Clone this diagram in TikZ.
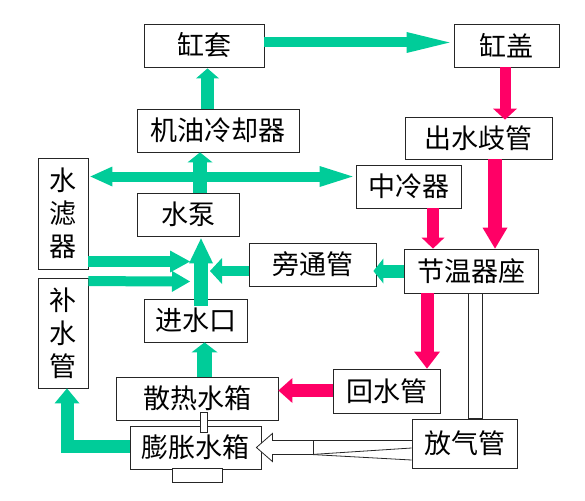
\documentclass[tikz,border=0pt]{standalone}
\usepackage{fontspec}
\newfontfamily\cjk{Noto Sans CJK SC}
\usetikzlibrary{arrows.meta,calc}
\definecolor{cgreen}{RGB}{0,204,153}
\definecolor{cpink}{RGB}{255,0,102}
\begin{document}
\begin{tikzpicture}[x=1pt,y=-1pt,
  box/.style={draw=black!85, line width=0.8pt, fill=white, minimum height=43pt, inner sep=0pt,
    align=center, font=\cjk\fontsize{27}{33}\selectfont},
  ar/.style n args={4}{draw=#1, line width=#2, -{Triangle[width=#3,length=#4,line width=0pt]}},
  thin/.style={draw=black!85, line width=0.8pt, fill=white}]
\useasboundingbox (0,0) rectangle (585,500);
% boxes
\node[box, minimum width=120pt] (A) at (204,45.5) {缸套};
\node[box, minimum width=105pt] (B) at (506.5,45.5) {缸盖};
\node[box, minimum width=162pt] (C) at (218,130.5) {机油冷却器};
\node[box, minimum width=147pt, minimum height=42pt] (D) at (478.5,138) {出水歧管};
\node[box, minimum width=105pt] (E) at (408.5,186.5) {中冷器};
\node[box, minimum width=50pt, minimum height=111pt] (F) at (63,213.5) {水\\滤\\器};
\node[box, minimum width=102pt] (G) at (188,214.5) {水泵};
\node[box, minimum width=127pt] (H) at (312.5,264.5) {旁通管};
\node[box, minimum width=134pt, minimum height=44pt] (I) at (471,271) {节温器座};
\node[box, minimum width=50pt, minimum height=110pt] (J) at (63,333) {补\\水\\管};
\node[box, minimum width=103pt] (K) at (195.5,320.5) {进水口};
\node[box, minimum width=107pt, minimum height=44pt] (L) at (386.5,391) {回水管};
\node[box, minimum width=162pt] (M) at (197,398.5) {散热水箱};
\node[box, minimum width=105pt, minimum height=49pt] (N) at (464.5,443.5) {放气管};
\node[box, minimum width=131pt] (O) at (195.5,447.5) {膨胀水箱};
% free ends
\coordinate (j1) at (190,261.5);
\coordinate (j2) at (190,281.5);
\coordinate (j3) at (210,271);
% green arrows
\draw[ar={cgreen}{10pt}{21pt}{43pt}] ([yshift=3pt]A.east) -- ([xshift=-4pt,yshift=3pt]B.west);
\draw[ar={cgreen}{13pt}{23pt}{10pt}] ([xshift=-10.5pt]C.north) -- ([xshift=3.5pt,yshift=-1pt]A.south);
\draw[ar={cgreen}{14pt}{25pt}{10pt}] ([xshift=12pt]G.north) -- ([xshift=-18pt]C.south);
\draw[draw=cgreen, line width=10pt,
  {Triangle[width=20pt,length=22pt,line width=0pt]}-{Triangle[width=21pt,length=33pt,line width=0pt]}]
  ([xshift=2pt,yshift=37pt]F.east) -- ([xshift=-3pt,yshift=10pt]E.west);
\draw[ar={cgreen}{14pt}{24pt}{25pt}] ([xshift=5.5pt,yshift=-7pt]K.north) -- ([xshift=13pt,yshift=-2pt]G.south);
\draw[ar={cgreen}{11pt}{22pt}{20pt}] ([yshift=-48pt]F.east) -- (j1);
\draw[ar={cgreen}{10pt}{21pt}{18pt}] ([yshift=-3.5pt]J.north east) -- (j2);
\draw[ar={cgreen}{10pt}{26pt}{12pt}] ([yshift=-6.5pt]H.west) -- (j3);
\draw[ar={cgreen}{13pt}{25pt}{10pt}] (I.west) -- ([xshift=-3pt,yshift=-6.5pt]H.east);
\draw[ar={cgreen}{15pt}{26pt}{10pt}] ([xshift=7.5pt]M.north) -- ([xshift=9pt]K.south);
\draw[ar={cgreen}{13pt}{25pt}{15pt}] ([yshift=1pt]O.west) -| ([xshift=4pt]J.south);
% pink arrows
\draw[ar={cpink}{11pt}{24pt}{11pt}] ([xshift=-1.5pt]B.south) -- ([xshift=26.5pt,yshift=-3pt]D.north);
\draw[ar={cpink}{14pt}{25pt}{21pt}] ([xshift=16.5pt]D.south) -- ([xshift=24pt]I.north);
\draw[ar={cpink}{12pt}{23pt}{11pt}] ([xshift=24.5pt]E.south) -- ([xshift=-38pt]I.north);
\draw[ar={cpink}{13pt}{26pt}{17pt}] ([xshift=-44pt]I.south) -- ([xshift=40.5pt]L.north);
\draw[ar={cpink}{13pt}{25pt}{14pt}] ([yshift=0.5pt]L.west) -- ([yshift=8pt]M.east);
% pipe between thermostat seat and vent pipe
\draw[thin] ([xshift=-3pt]I.south) rectangle ([xshift=17.5pt]N.north);
% hollow arrow from vent pipe to expansion tank
\draw[thin] ([xshift=-5pt]O.east) -- ++(16,-14) -- ++(0,7) -- ++(41,0) coordinate (w1)
  -- ++(0,14) coordinate (w2) -- ++(-41,0) -- ++(0,7) -- cycle;
\draw[black!85, line width=0.8pt] (w1) -- ([yshift=3pt]N.west);
\draw[black!85, line width=0.8pt] ([xshift=-2pt]w2) -- ([yshift=-4.5pt]N.west);
\draw[black!85, line width=0.8pt] ([xshift=-2pt]w2) -- ([yshift=-16.5pt]N.west);
% small connectors of the tanks
\draw[thin] ([xshift=3pt,yshift=8pt]M.south) rectangle ([xshift=11.5pt,yshift=-7pt]O.north);
\draw[thin] ([xshift=-23.5pt,yshift=1pt]O.south) rectangle ([xshift=26.5pt,yshift=-13pt]O.south);
\end{tikzpicture}
\end{document}
